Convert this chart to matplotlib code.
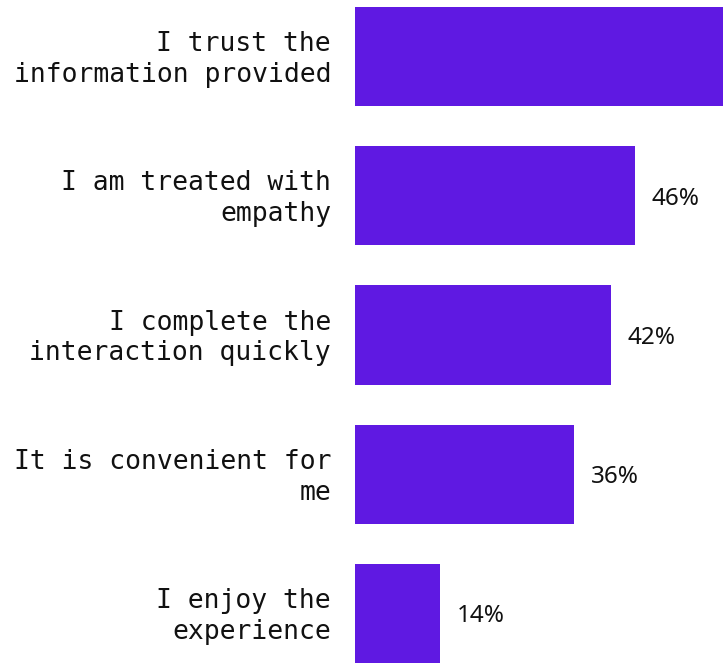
import matplotlib
matplotlib.use("Agg")
import matplotlib.pyplot as plt

# Survey reasons
categories = [
    "I trust the\ninformation provided",
    "I am treated with\nempathy",
    "I complete the\ninteraction quickly",
    "It is convenient for\nme",
    "I enjoy the\nexperience",
]
values = [62, 46, 42, 36, 14]

bar_color = "#5f19e2"

W, H = 723, 663
fig = plt.figure(figsize=(W / 100, H / 100), dpi=100)
left = 355 / W
ax = fig.add_axes([left, 0, 1 - left, 1])

ypos = list(range(len(categories)))
ax.barh(ypos, values, height=0.711, color=bar_color)

# x scale: 46% bar ends at ~635 px
px_per_pct = 280 / 46
xmax = (W - 355) / px_per_pct
ax.set_xlim(0, xmax)
ax.set_ylim(4 + 49.5 / 139.25, -56.5 / 139.25)
ax.axis("off")

for y, v, cat in zip(ypos, values, categories):
    # the top bar runs past the chart edge, its label isn't visible
    if v < xmax - 5:
        ax.annotate(f"{v}%", (v, y), xytext=(17 * 0.72, -3 * 0.72), textcoords="offset points",
                    ha="left", va="center", fontsize=17.5, family="Noto Sans",
                    color="#111111", annotation_clip=False)
    ax.annotate(cat, (0, y), xytext=(-24 * 0.72, -3 * 0.72), textcoords="offset points",
                ha="right", va="center", fontsize=19, family="DejaVu Sans Mono",
                linespacing=1.25, color="#111111", annotation_clip=False)

fig.savefig("out.png", dpi=100)
